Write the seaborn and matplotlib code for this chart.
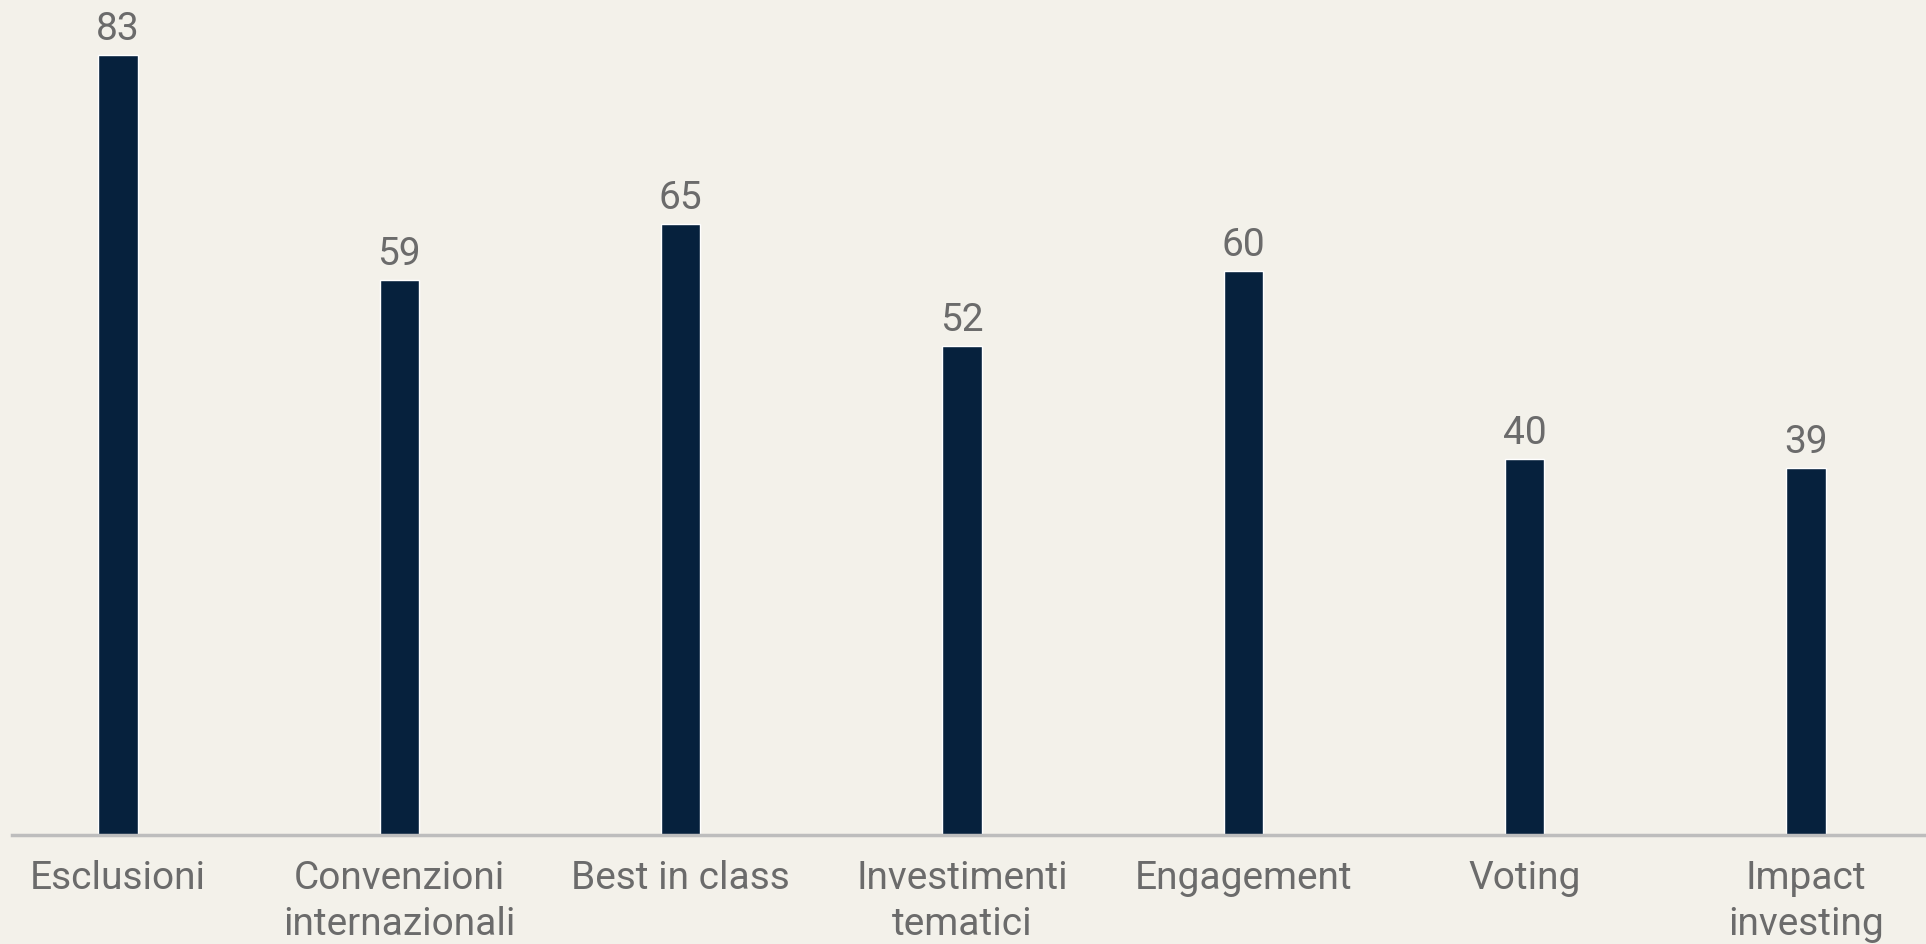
import matplotlib
matplotlib.use("Agg")
import matplotlib.pyplot as plt
import seaborn as sns
import pandas as pd

# Dati del grafico
categorie = ["Esclusioni", "Convenzioni\ninternazionali", "Best in class",
             "Investimenti\ntematici", "Engagement", "Voting", "Impact\ninvesting"]
valori = [83, 59, 65, 52, 60, 40, 39]

df = pd.DataFrame({"categoria": categorie, "valore": valori})

sfondo = "#F3F1EA"
blu = "#06213D"
grigio_testo = "#6B6B6B"

sns.set_style("white")
plt.rcParams["font.family"] = ["Roboto", "DejaVu Sans"]

fig = plt.figure(figsize=(19.26, 9.44), dpi=100, facecolor=sfondo)
ax = fig.add_axes([12 / 1926, 109 / 944, 1914 / 1926, 835 / 944])
ax.set_facecolor(sfondo)

sns.barplot(data=df, x="categoria", y="valore", color=blu, width=0.14,
            saturation=1, ax=ax)

ax.set_xlim(-0.377, 6.427)
ax.set_ylim(0, 88.8)

# Etichette dei valori sopra le barre
ax.bar_label(ax.containers[0], fmt="%d", padding=5, fontsize=28,
             color=grigio_testo)

# Assi
for lato in ["top", "right", "left"]:
    ax.spines[lato].set_visible(False)
ax.spines["bottom"].set_color("#BDBDBD")
ax.spines["bottom"].set_linewidth(2.5)
ax.set_yticks([])
ax.set_xlabel("")
ax.set_ylabel("")
ax.tick_params(axis="x", length=0, pad=18, labelsize=28, labelcolor=grigio_testo)
for t in ax.get_xticklabels():
    t.set_linespacing(1.32)
    t.set_verticalalignment("top")

fig.savefig("out.png", dpi=100, facecolor=sfondo)
